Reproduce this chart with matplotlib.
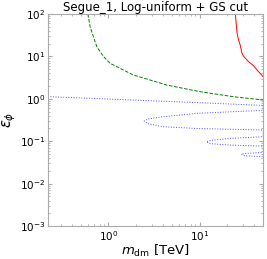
import matplotlib
matplotlib.use("Agg")
import matplotlib.pyplot as plt
import numpy as np

# green dashed contour
green_m = [0.594, 0.63, 0.684, 0.746, 0.88, 1.04, 1.34, 1.88, 4.38, 10.2, 23.6, 50.0]
green_eps = [100.0, 50.0, 29.2, 16.9, 10.0, 6.9, 5.24, 3.64, 2.11, 1.47, 1.12, 0.94]

# red solid contour
red_m = [24.7, 25.8, 26.8, 28.0, 29.2, 30.5, 34.5, 39.2, 42.7, 50.0]
red_eps = [100.0, 35.0, 24.4, 18.0, 11.8, 10.0, 7.5, 6.0, 4.8, 3.3]

# blue dotted contour (zigzag)
blue_m = [0.216, 0.5, 1.0, 2.0, 5.0, 10.0, 20.0, 50.0,
          50.0, 9.36, 3.99, 2.7, 2.47, 2.7, 3.99, 9.36, 50.0,
          50.0, 21.7, 13.0, 11.9, 13.0, 21.7, 50.0,
          50.0, 30.5, 28.7, 30.5, 50.0]
blue_eps = [1.13, 1.05, 0.99, 0.93, 0.86, 0.81, 0.76, 0.70,
            0.536, 0.455, 0.379, 0.335, 0.30, 0.26, 0.22, 0.20, 0.184,
            0.128, 0.117, 0.104, 0.097, 0.088, 0.081, 0.077,
            0.0547, 0.0512, 0.049, 0.046, 0.043]

fig = plt.figure(figsize=(2.67, 2.59), dpi=100)
ax = fig.add_axes([0.179, 0.127, 0.807, 0.819])

ax.plot(green_m, green_eps, color='g', linestyle='--', linewidth=0.7)
ax.plot(red_m, red_eps, color='r', linestyle='-', linewidth=0.7)
ax.plot(blue_m, blue_eps, color='b', linestyle=':', linewidth=0.7, alpha=0.7)

ax.set_xscale('log')
ax.set_yscale('log')
ax.set_xlim(0.216, 50)
ax.set_ylim(1e-3, 1e2)

ax.set_title('Segue_1, Log-uniform + GS cut', fontsize=8.5, pad=2)
ax.set_xlabel(r'$m_{\rm dm}$ [TeV]', fontsize=9.5, labelpad=0)
ax.set_ylabel(r'$\epsilon_\phi$', fontsize=10.5, labelpad=1)

for s in ax.spines.values():
    s.set_color('#aaaaaa')
ax.tick_params(which='both', direction='in', top=True, right=True,
               colors='#aaaaaa', labelcolor='black', labelsize=7.5, pad=2)
ax.tick_params(which='major', length=3)
ax.tick_params(which='minor', length=1.5)

fig.savefig('out.png', dpi=100)
